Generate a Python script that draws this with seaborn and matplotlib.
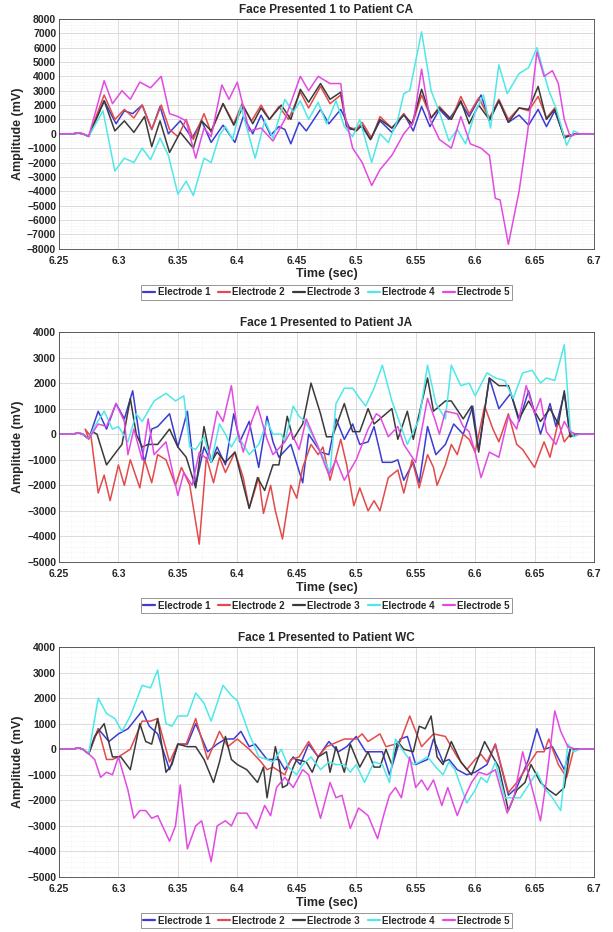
import numpy as np
import pandas as pd
import matplotlib
matplotlib.use('Agg')
import matplotlib.pyplot as plt
import seaborn as sns
from matplotlib.lines import Line2D
from matplotlib.ticker import MultipleLocator, AutoMinorLocator

ELECTRODES = ['Electrode 1', 'Electrode 2', 'Electrode 3', 'Electrode 4', 'Electrode 5']
COLORS = ['#3c3cd2', '#e34a4a', '#3a3a3a', '#4fe8e8', '#e24ae2']

START = [(6.25, 0), (6.262, 0), (6.266, 60), (6.27, 0), (6.275, -180)]
END = [(6.69, 0), (6.7, 0)]

# ---- Patient CA
ca_e1 = [(6.288, 2300), (6.298, 700), (6.305, 1600), (6.312, 1400), (6.32, 2000), (6.328, 300),
         (6.335, 1900), (6.342, 0), (6.352, 900), (6.362, -300), (6.37, 900), (6.378, -600),
         (6.388, 600), (6.398, -600), (6.405, 1200), (6.413, 0), (6.42, 1300), (6.428, -100),
         (6.435, 500), (6.44, 300), (6.445, -700), (6.452, 800), (6.458, 200), (6.47, 1700),
         (6.477, 700), (6.487, 1700), (6.495, 300), (6.505, 500), (6.512, -400), (6.52, 900),
         (6.53, 100), (6.54, 1400), (6.548, 200), (6.555, 1900), (6.562, 500), (6.57, 1700),
         (6.578, 1000), (6.588, 2200), (6.595, 1200), (6.605, 2700), (6.612, 900), (6.62, 2300),
         (6.628, 800), (6.637, 1300), (6.645, 600), (6.653, 1700), (6.66, 500), (6.667, 1600),
         (6.675, -200), (6.68, -100), (6.685, 0)]
ca_e2 = [(6.288, 2700), (6.297, 1000), (6.305, 1700), (6.313, 1100), (6.32, 2000), (6.328, 300),
         (6.336, 2000), (6.343, 300), (6.35, -200), (6.357, 1000), (6.363, -400), (6.372, 1400),
         (6.378, 100), (6.388, 2100), (6.397, 700), (6.404, 2100), (6.412, 900), (6.42, 2000),
         (6.427, 1000), (6.435, 1900), (6.443, 1000), (6.453, 2900), (6.46, 1800), (6.47, 3300),
         (6.478, 2100), (6.487, 2700), (6.492, 500), (6.5, 300), (6.505, 800), (6.513, -300),
         (6.52, 1200), (6.53, 400), (6.54, 1400), (6.547, 600), (6.555, 2700), (6.563, 1100),
         (6.57, 1900), (6.58, 1000), (6.588, 2600), (6.595, 1400), (6.603, 2500), (6.612, 1100),
         (6.62, 2400), (6.628, 1000), (6.637, 1800), (6.645, 1600), (6.653, 2600), (6.66, 1100),
         (6.667, 1800), (6.675, -200), (6.68, -100), (6.685, 0)]
ca_e3 = [(6.288, 2300), (6.297, 200), (6.305, 900), (6.313, 100), (6.322, 1200), (6.328, -900),
         (6.335, 900), (6.343, -1300), (6.352, 100), (6.363, -1000), (6.37, 900), (6.378, 200),
         (6.388, 2100), (6.397, 600), (6.405, 1900), (6.413, 700), (6.42, 1800), (6.427, 1000),
         (6.437, 2000), (6.445, 1000), (6.453, 3100), (6.46, 2200), (6.47, 3500), (6.478, 2400),
         (6.487, 2900), (6.492, 500), (6.5, 200), (6.505, 600), (6.512, -400), (6.52, 1000),
         (6.53, 400), (6.54, 1300), (6.547, 700), (6.555, 3100), (6.563, 1100), (6.57, 1800),
         (6.58, 1000), (6.588, 2300), (6.595, 700), (6.603, 2000), (6.612, 1000), (6.62, 2300),
         (6.628, 800), (6.637, 1800), (6.645, 1700), (6.653, 3300), (6.66, 1000), (6.667, 1700),
         (6.675, -300), (6.68, -100), (6.685, 0)]
ca_e4 = [(6.287, 1600), (6.297, -2600), (6.305, -1700), (6.313, -2000), (6.32, -1000),
         (6.327, -1800), (6.335, -300), (6.342, -1500), (6.35, -4200), (6.357, -3300),
         (6.363, -4300), (6.372, -1700), (6.378, -2000), (6.385, -100), (6.39, 500), (6.396, -400),
         (6.403, 1900), (6.415, -1700), (6.423, 900), (6.43, -300), (6.44, 2400), (6.447, 1500),
         (6.453, 2300), (6.46, 1000), (6.468, 2200), (6.475, 700), (6.483, 2300), (6.49, 500),
         (6.497, -200), (6.503, 1000), (6.513, -2000), (6.52, 0), (6.527, -600), (6.535, 1000),
         (6.54, 2800), (6.545, 3000), (6.555, 7100), (6.563, 3000), (6.57, 1500), (6.578, -500),
         (6.585, 300), (6.592, -700), (6.6, 1500), (6.607, 2700), (6.613, 400), (6.62, 4800),
         (6.627, 2800), (6.637, 4200), (6.645, 4600), (6.652, 6000), (6.662, 3000), (6.668, 1800),
         (6.677, -800), (6.683, 200), (6.688, 0)]
ca_e5 = [(6.288, 3700), (6.295, 2100), (6.303, 3000), (6.31, 2400), (6.318, 3600), (6.327, 3200),
         (6.336, 4000), (6.343, 1400), (6.35, 1200), (6.357, 900), (6.365, -1700), (6.372, 400),
         (6.378, -200), (6.387, 3400), (6.393, 2400), (6.4, 3600), (6.41, 200), (6.42, 400),
         (6.43, -500), (6.44, 1000), (6.453, 4000), (6.46, 3000), (6.468, 4000), (6.478, 3500),
         (6.487, 3500), (6.49, 1500), (6.497, -1000), (6.505, -2000), (6.513, -3600),
         (6.52, -2500), (6.53, -1500), (6.54, 0), (6.548, 800), (6.555, 4500), (6.562, 1000),
         (6.57, -400), (6.58, -1000), (6.588, 1200), (6.596, -700), (6.605, -1000), (6.612, -1500),
         (6.617, -4500), (6.621, -4600), (6.628, -7700), (6.637, -4000), (6.644, 0), (6.652, 5700),
         (6.658, 4000), (6.665, 4400), (6.67, 3500), (6.675, 1000), (6.68, -200), (6.685, 0)]

# ---- Patient JA
ja_e1 = [(6.283, 900), (6.29, 200), (6.298, 1200), (6.305, 600), (6.312, 1700), (6.318, -200),
         (6.322, -1100), (6.328, 200), (6.333, 300), (6.343, 800), (6.35, -500), (6.358, 900),
         (6.365, -2000), (6.372, -500), (6.378, -1100), (6.383, -500), (6.39, -1200), (6.397, 800),
         (6.402, -300), (6.41, 500), (6.418, -1300), (6.425, 700), (6.43, -300), (6.435, -900),
         (6.445, -400), (6.455, -1900), (6.46, 0), (6.47, -700), (6.477, -800), (6.483, 600),
         (6.49, -200), (6.497, 400), (6.503, -400), (6.51, -300), (6.515, 300), (6.522, -1100),
         (6.53, -1100), (6.535, -1000), (6.54, -1800), (6.548, -1100), (6.553, -1900), (6.56, 300),
         (6.567, -800), (6.575, -400), (6.582, 400), (6.59, 0), (6.598, 1100), (6.603, -600),
         (6.612, 2200), (6.62, 1000), (6.63, 1600), (6.637, 500), (6.645, 1700), (6.655, 0),
         (6.663, 1200), (6.668, 300), (6.675, 1600), (6.68, -100), (6.685, 0)]
ja_e2 = [(6.272, 200), (6.277, -100), (6.283, -2300), (6.288, -1600), (6.293, -2600), (6.3, -1200),
         (6.305, -2000), (6.31, -1000), (6.318, -2100), (6.322, -1000), (6.328, -1900),
         (6.333, -800), (6.34, -1000), (6.348, -2000), (6.353, -1300), (6.36, -2000),
         (6.368, -4300), (6.374, -900), (6.38, -1900), (6.385, -900), (6.39, -1500), (6.398, -700),
         (6.405, -1700), (6.41, -2900), (6.418, -1700), (6.422, -3100), (6.428, -2000),
         (6.432, -3000), (6.438, -4100), (6.445, -2000), (6.45, -2500), (6.455, -1300),
         (6.462, -400), (6.468, -800), (6.472, -500), (6.478, -1800), (6.487, -200),
         (6.492, -1200), (6.498, -2800), (6.503, -2100), (6.51, -3000), (6.515, -2600),
         (6.52, -3000), (6.527, -1700), (6.535, -1400), (6.54, -2300), (6.547, -1000),
         (6.553, -2100), (6.56, -800), (6.565, -1300), (6.568, -2000), (6.575, -1200),
         (6.58, -400), (6.585, -800), (6.59, 0), (6.595, -200), (6.6, -700), (6.608, 1100),
         (6.615, 200), (6.62, -300), (6.628, 800), (6.635, -400), (6.64, -600), (6.65, -1300),
         (6.658, -300), (6.663, -900), (6.67, 500), (6.675, -300), (6.68, 0)]
ja_e3 = [(6.278, 100), (6.282, 0), (6.29, -1200), (6.298, -700), (6.303, -400), (6.31, 1400),
         (6.315, 0), (6.32, -500), (6.325, -400), (6.333, -400), (6.343, 200), (6.35, -500),
         (6.357, -900), (6.365, -2100), (6.372, 300), (6.378, -1100), (6.383, -700),
         (6.39, -1100), (6.398, -700), (6.41, -2900), (6.417, -1700), (6.423, -2200),
         (6.43, -1200), (6.435, -1200), (6.442, 700), (6.447, -200), (6.455, 400), (6.462, 2000),
         (6.47, 800), (6.475, -100), (6.48, -100), (6.49, 1200), (6.497, 100), (6.503, 100),
         (6.51, 1000), (6.515, 400), (6.52, 600), (6.53, 1000), (6.535, -200), (6.543, 900),
         (6.548, -200), (6.56, 2200), (6.565, 900), (6.575, 1300), (6.58, 1300), (6.59, 600),
         (6.597, 1100), (6.603, -700), (6.612, 2200), (6.62, 1900), (6.628, 1900), (6.637, 600),
         (6.645, 1300), (6.655, 500), (6.663, 1000), (6.67, 400), (6.675, 1700), (6.68, -100),
         (6.685, 0)]
ja_e4 = [(6.28, 300), (6.288, 900), (6.295, 200), (6.3, 300), (6.308, -300), (6.315, 800),
         (6.32, 500), (6.33, 1300), (6.34, 1600), (6.348, 1300), (6.355, 1500), (6.36, -500),
         (6.365, -600), (6.372, -100), (6.378, -1100), (6.385, 400), (6.39, 0), (6.395, -500),
         (6.4, -100), (6.405, -400), (6.41, -800), (6.418, -400), (6.425, 500), (6.43, 0),
         (6.437, 0), (6.44, -300), (6.447, 1100), (6.452, 700), (6.457, 500), (6.465, -200),
         (6.472, -900), (6.478, -1500), (6.483, 1200), (6.49, 1800), (6.497, 1800), (6.503, 1400),
         (6.508, 1100), (6.515, 1800), (6.522, 2700), (6.53, 1300), (6.537, 400), (6.543, -400),
         (6.548, 100), (6.553, 600), (6.56, 2700), (6.567, 1200), (6.575, 600), (6.58, 2700),
         (6.588, 1900), (6.595, 2000), (6.6, 1500), (6.61, 2400), (6.617, 2200), (6.625, 2100),
         (6.632, 1400), (6.64, 2400), (6.648, 2500), (6.655, 2000), (6.66, 2200), (6.667, 2100),
         (6.675, 3500), (6.68, 200), (6.683, -100), (6.688, 0)]
ja_e5 = [(6.283, 400), (6.29, 300), (6.298, 1200), (6.305, 500), (6.308, -800), (6.313, 200),
         (6.32, -1000), (6.325, 600), (6.33, -800), (6.34, -300), (6.35, -2400), (6.355, -1500),
         (6.362, -2000), (6.368, -700), (6.375, -1000), (6.383, 900), (6.388, 500), (6.395, 1900),
         (6.4, 200), (6.405, -700), (6.412, 500), (6.417, 1100), (6.425, -200), (6.43, -800),
         (6.44, -300), (6.445, 100), (6.452, -600), (6.458, 600), (6.468, -500), (6.477, -1600),
         (6.483, -1000), (6.49, -1800), (6.5, -1000), (6.51, 200), (6.517, 800), (6.52, 700),
         (6.527, -100), (6.535, 300), (6.54, -400), (6.55, -1100), (6.56, 1400), (6.566, 600),
         (6.57, 0), (6.575, 900), (6.585, 800), (6.59, 300), (6.595, 100), (6.6, -700),
         (6.605, -1700), (6.612, -700), (6.62, -900), (6.628, 700), (6.635, 200), (6.643, 1900),
         (6.65, 800), (6.655, 1400), (6.66, 100), (6.668, -400), (6.675, 500), (6.68, 100),
         (6.685, 0)]

# ---- Patient WC
wc_e1 = [(6.283, 800), (6.292, 300), (6.3, 600), (6.308, 800), (6.32, 1500), (6.326, 900),
         (6.333, 600), (6.343, -800), (6.35, 200), (6.358, 200), (6.365, 1000), (6.375, -100),
         (6.383, 200), (6.39, 400), (6.397, 400), (6.403, 700), (6.41, 100), (6.415, 200),
         (6.425, -400), (6.435, -400), (6.44, -800), (6.447, -300), (6.453, -600), (6.46, 200),
         (6.468, -300), (6.477, 300), (6.485, -100), (6.492, 100), (6.5, 500), (6.508, -100),
         (6.515, -100), (6.522, -100), (6.528, -1000), (6.537, 400), (6.543, 500), (6.55, -600),
         (6.56, -400), (6.565, 400), (6.573, -500), (6.578, -400), (6.585, -800), (6.593, -1000),
         (6.6, -900), (6.61, -600), (6.617, 200), (6.628, -1800), (6.635, -1500), (6.645, -400),
         (6.652, 800), (6.658, 0), (6.665, 100), (6.675, -800), (6.68, 0), (6.685, 0)]
wc_e2 = [(6.283, 800), (6.29, -400), (6.295, -400), (6.3, -300), (6.31, 0), (6.32, 1100),
         (6.327, 1100), (6.333, 1200), (6.343, -500), (6.35, 200), (6.357, 200), (6.365, 1200),
         (6.375, -400), (6.385, 700), (6.392, 100), (6.4, 400), (6.41, 0), (6.42, -500),
         (6.425, -800), (6.43, -700), (6.44, -1000), (6.445, -400), (6.452, -300), (6.46, 300),
         (6.468, -300), (6.475, 100), (6.485, 300), (6.49, 400), (6.5, 400), (6.505, 600),
         (6.51, 300), (6.52, 600), (6.525, 100), (6.533, 200), (6.537, 300), (6.545, 1300),
         (6.555, 100), (6.565, 600), (6.575, 500), (6.585, -300), (6.593, -800), (6.6, -400),
         (6.605, -200), (6.61, -500), (6.617, 200), (6.628, -1700), (6.635, -1300), (6.645, -600),
         (6.652, -100), (6.658, -100), (6.662, 400), (6.67, -600), (6.677, -1100), (6.683, 0)]
wc_e3 = [(6.28, 500), (6.288, 1000), (6.295, -300), (6.302, -300), (6.31, -800), (6.318, 1000),
         (6.323, 300), (6.328, 200), (6.333, 1200), (6.34, -900), (6.345, -600), (6.35, 200),
         (6.358, 100), (6.365, 100), (6.372, -400), (6.38, -1300), (6.385, -500), (6.39, 500),
         (6.395, -400), (6.4, -600), (6.408, -800), (6.417, -1300), (6.422, -700), (6.425, -1900),
         (6.432, 100), (6.435, -500), (6.438, -1500), (6.442, -1400), (6.447, -700), (6.45, -400),
         (6.458, -500), (6.463, -900), (6.468, -300), (6.475, -100), (6.478, -900), (6.483, 100),
         (6.49, -900), (6.495, 200), (6.503, -700), (6.51, -100), (6.515, -700), (6.52, -700),
         (6.525, 0), (6.53, -600), (6.535, 300), (6.54, 0), (6.548, -100), (6.553, 900),
         (6.558, 800), (6.563, 1300), (6.568, -300), (6.573, -600), (6.58, 300), (6.588, -500),
         (6.597, -1000), (6.603, -300), (6.608, 300), (6.615, -300), (6.62, -700), (6.628, -2400),
         (6.635, -1600), (6.642, -1300), (6.647, -600), (6.655, -1300), (6.662, -1600),
         (6.668, -1800), (6.675, -1500), (6.68, 0), (6.685, 0)]
wc_e4 = [(6.283, 2000), (6.29, 1400), (6.297, 1200), (6.303, 700), (6.31, 1300), (6.315, 1900),
         (6.32, 2500), (6.327, 2400), (6.333, 3100), (6.34, 1000), (6.345, 900), (6.35, 1300),
         (6.358, 1300), (6.365, 2200), (6.372, 1800), (6.378, 1100), (6.388, 2500), (6.395, 2100),
         (6.4, 1900), (6.41, 600), (6.418, -300), (6.425, -400), (6.43, -500), (6.437, 0),
         (6.443, -700), (6.45, -1000), (6.455, -600), (6.462, -300), (6.47, -800), (6.477, -500),
         (6.483, -600), (6.49, -600), (6.495, -900), (6.5, -600), (6.507, -1300), (6.515, -500),
         (6.522, -600), (6.528, -1300), (6.533, 400), (6.54, -100), (6.548, -600), (6.553, -500),
         (6.56, -300), (6.567, -700), (6.573, -1000), (6.578, -500), (6.583, -800), (6.593, -2100),
         (6.6, -1600), (6.605, -1100), (6.61, -1300), (6.617, -500), (6.625, -1900), (6.63, -1900),
         (6.638, -1900), (6.645, -1400), (6.652, -900), (6.658, -1500), (6.665, -1900),
         (6.672, -2400), (6.678, 200), (6.683, -100), (6.688, 0)]
wc_e5 = [(6.28, -400), (6.285, -1100), (6.29, -900), (6.295, -1000), (6.3, -300), (6.308, -1600),
         (6.313, -2700), (6.318, -2400), (6.323, -2400), (6.328, -2700), (6.333, -2600),
         (6.343, -3600), (6.348, -3000), (6.352, -1400), (6.358, -3900), (6.365, -3000),
         (6.37, -2800), (6.378, -4400), (6.383, -3000), (6.39, -2800), (6.395, -3000),
         (6.4, -2500), (6.408, -2500), (6.416, -3100), (6.423, -2200), (6.428, -2600),
         (6.433, -1500), (6.44, -1100), (6.447, -1500), (6.455, -800), (6.46, -1000),
         (6.47, -2700), (6.478, -1300), (6.483, -1900), (6.488, -1800), (6.495, -3100),
         (6.502, -2300), (6.51, -2600), (6.518, -3500), (6.523, -2600), (6.528, -1800),
         (6.533, -1500), (6.538, -1900), (6.545, -300), (6.55, -1500), (6.555, -1200),
         (6.56, -1600), (6.565, -1200), (6.572, -2200), (6.577, -1500), (6.585, -2600),
         (6.59, -2000), (6.597, -1300), (6.603, -900), (6.61, -1000), (6.617, -800),
         (6.627, -2500), (6.633, -1800), (6.64, -100), (6.645, -1000), (6.655, -2800),
         (6.66, -1200), (6.667, 1500), (6.672, 700), (6.678, 100), (6.685, 0)]

PANELS = [
    ('Face Presented 1 to Patient CA', [ca_e1, ca_e2, ca_e3, ca_e4, ca_e5], (-8000, 8000)),
    ('Face 1 Presented to Patient JA', [ja_e1, ja_e2, ja_e3, ja_e4, ja_e5], (-5000, 4000)),
    ('Face 1 Presented to Patient WC', [wc_e1, wc_e2, wc_e3, wc_e4, wc_e5], (-5000, 4000)),
]


def make_frame(series):
    rows = []
    for name, pts in zip(ELECTRODES, series):
        for t, v in START + pts + END:
            rows.append((name, t, v))
    return pd.DataFrame(rows, columns=['electrode', 't', 'v'])


sns.set_theme(style='white')
plt.rcParams['font.family'] = ['Liberation Sans', 'DejaVu Sans']

fig = plt.figure(figsize=(6.13, 9.32), dpi=100)
boxes = [(0.0962, 0.7332, 0.8728, 0.2465),
         (0.0962, 0.3970, 0.8728, 0.2468),
         (0.0962, 0.0590, 0.8728, 0.2468)]

xt = np.round(np.arange(6.25, 6.701, 0.05), 2)

for (title, series, ylim), box in zip(PANELS, boxes):
    ax = fig.add_axes(box)
    df = make_frame(series)
    sns.lineplot(data=df, x='t', y='v', hue='electrode', palette=COLORS, estimator=None,
                 sort=False, linewidth=1.1, legend=False, solid_joinstyle='round', ax=ax)
    ax.set_xlim(6.25, 6.7)
    ax.set_ylim(*ylim)
    ax.set_xticks(xt)
    ax.set_xticklabels([f'{v:g}' for v in xt])
    ax.yaxis.set_major_locator(MultipleLocator(1000))
    ax.xaxis.set_minor_locator(AutoMinorLocator(5))
    ax.yaxis.set_minor_locator(AutoMinorLocator(5))
    ax.grid(which='major', color='#d6d6d6', linewidth=0.6)
    ax.grid(which='minor', color='#ebebeb', linewidth=0.4, linestyle=':')
    ax.set_axisbelow(True)
    for s in ax.spines.values():
        s.set_color('#444444')
        s.set_linewidth(0.6)
    ax.tick_params(axis='x', labelsize=7.5, pad=5, length=0)
    ax.tick_params(axis='y', labelsize=7.5, pad=2, length=0)
    for lab in ax.get_xticklabels() + ax.get_yticklabels():
        lab.set_fontweight('bold')
    ax.set_title(title, fontsize=8.5, fontweight='bold', pad=4)
    ax.set_xlabel('Time (sec)', fontsize=9, fontweight='bold', labelpad=2)
    ax.set_ylabel('Amplitude (mV)', fontsize=9, fontweight='bold', labelpad=2)
    handles = [Line2D([0], [0], color=c, linewidth=1.6) for c in COLORS]
    leg = ax.legend(handles, ELECTRODES, loc='upper center', bbox_to_anchor=(0.5, -0.157),
                    ncol=5, fontsize=7, frameon=True, fancybox=False, edgecolor='#666666',
                    handlelength=1.2, handletextpad=0.3, columnspacing=0.8, borderpad=0.25,
                    borderaxespad=0)
    leg.get_frame().set_linewidth(0.6)
    for txt in leg.get_texts():
        txt.set_fontweight('bold')

fig.savefig('out.png', dpi=100, facecolor='white')
